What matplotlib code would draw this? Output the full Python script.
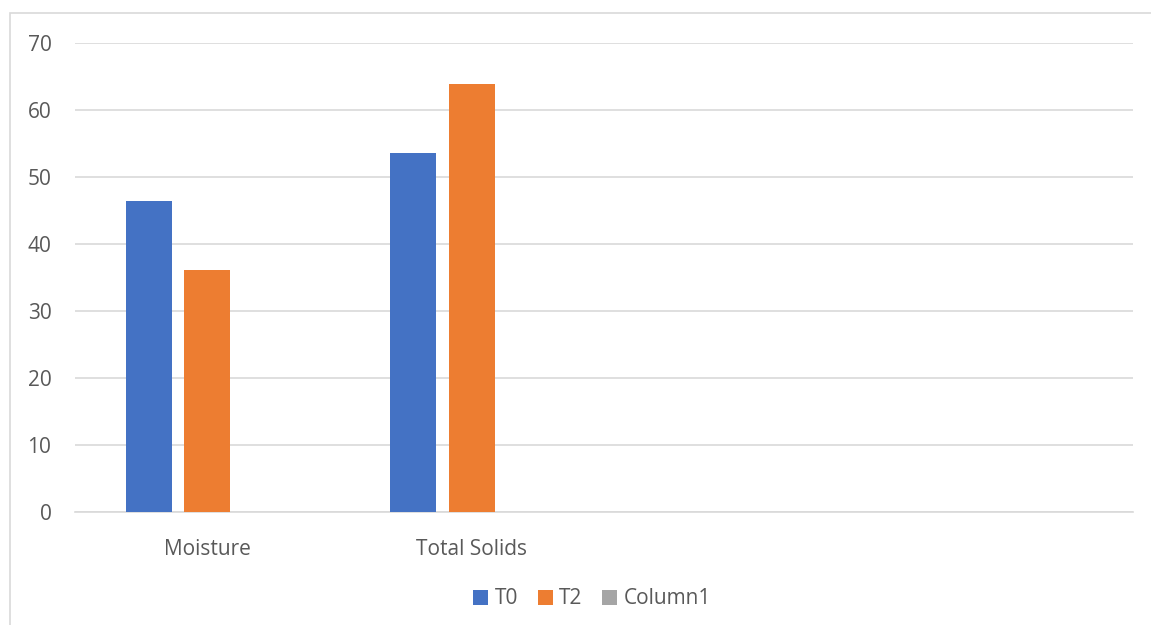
import matplotlib.pyplot as plt
import numpy as np
from matplotlib.patches import Rectangle

categories = ["Moisture", "Total Solids", "", ""]
t0 = [46.4, 53.6, np.nan, np.nan]
t2 = [36.2, 63.9, np.nan, np.nan]
column1 = [np.nan, np.nan, np.nan, np.nan]
series_names = ["T0", "T2", "Column1"]
colors = ["#4472C4", "#ED7D31", "#A5A5A5"]
yticks = [0, 10, 20, 30, 40, 50, 60, 70]

W, H = 1151, 625
plt.rcParams["font.family"] = ["Open Sans", "DejaVu Sans"]

fig = plt.figure(figsize=(W / 100, H / 100), dpi=100)
ax = fig.add_axes([75 / W, 1 - 512.3 / H, (1133 - 75) / W, (512.3 - 43) / H])

x = np.arange(len(categories))
width = 0.174
step = 0.222
for i, (vals, name, c) in enumerate(zip([t0, t2, column1], series_names, colors)):
    ax.bar(x + (i - 1) * step, vals, width=width, color=c, label=name, zorder=3)

ax.set_xlim(-0.5, len(categories) - 0.5)
ax.set_ylim(0, 70)
ax.set_yticks(yticks)
ax.set_xticks(x)
ax.set_xticklabels(categories)
ax.grid(axis="y", color="#D9D9D9", linewidth=1.2, zorder=0)
for s in ["top", "right", "left"]:
    ax.spines[s].set_visible(False)
ax.spines["bottom"].set_color("#D9D9D9")
ax.spines["bottom"].set_linewidth(1.2)
ax.tick_params(axis="both", length=0, labelsize=15, labelcolor="#595959")
ax.tick_params(axis="y", pad=17)
ax.tick_params(axis="x", pad=19)

ax.legend(loc="center", bbox_to_anchor=(592 / W, 1 - 599 / H),
          bbox_transform=fig.transFigure, ncol=3, frameon=False,
          fontsize=15, labelcolor="#595959", handlelength=0.72, handleheight=0.72,
          handletextpad=0.3, columnspacing=0.95)

# chart area border
fig.patches.append(Rectangle((10 / W, -0.1), 1.2, 1 - 13 / H + 0.1,
                             transform=fig.transFigure, fill=False,
                             edgecolor="#D9D9D9", linewidth=1.2))

fig.savefig("out.png", dpi=100)
